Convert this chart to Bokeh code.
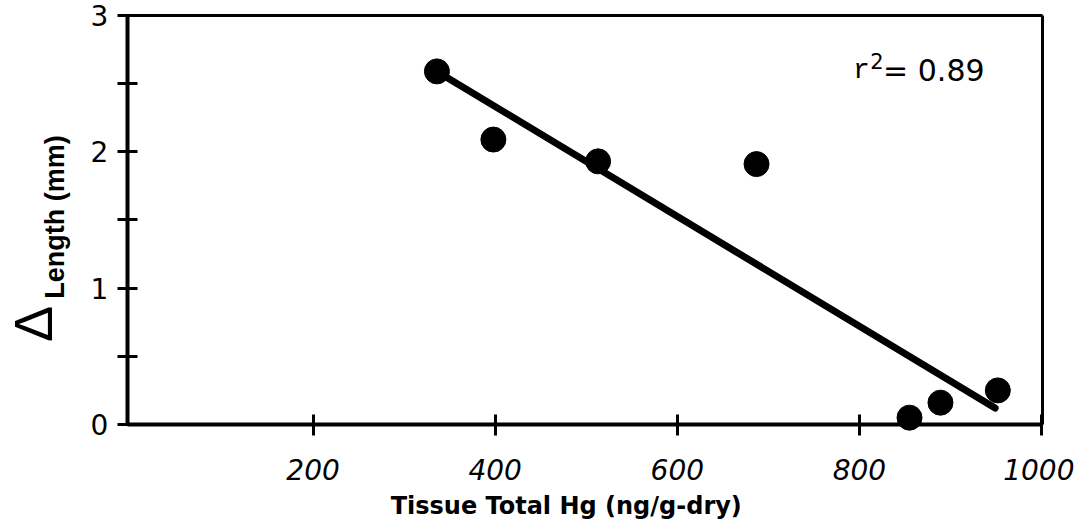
import math
from bokeh.plotting import figure
from bokeh.models import Range1d, FixedTicker, Label, ColumnDataSource, LinearAxis
from bokeh.embed import file_html
from bokeh.resources import INLINE

# ---- data ----
hg = [336, 398, 513, 687, 855, 889, 952]          # Tissue Total Hg (ng/g-dry)
dlen = [2.59, 2.09, 1.93, 1.91, 0.05, 0.16, 0.25]  # Delta length (mm)
fit_x = [336, 949]
fit_y = [2.59, 0.12]
x_ticks = [200, 400, 600, 800, 1000]
y_ticks = [0, 1, 2, 3]
y_minor = [0.5, 1.5, 2.5]
x_title = "Tissue Total Hg (ng/g-dry)"
y_title_sym = "\u0394"
y_title = "Length (mm)"
r2_label = "= 0.89"

X0, X1 = -4, 1001   # plot box extent in data units
Y0, Y1 = 0, 3

p = figure(width=1074, height=525, output_backend="svg", toolbar_location=None,
           x_range=Range1d(-143.3, 1036.2), y_range=Range1d(-0.741, 3.110),
           min_border=0, min_border_left=0, min_border_right=0,
           min_border_top=0, min_border_bottom=0)
p.background_fill_color = "white"
p.border_fill_color = "white"
p.outline_line_color = None
p.xgrid.visible = False
p.ygrid.visible = False

src = ColumnDataSource(dict(x=hg, y=dlen))
p.line(fit_x, fit_y, line_color="black", line_width=7, line_cap="round")
p.scatter("x", "y", source=src, size=25, color="black")

# axes (drawn at the box edges)
xa = p.xaxis[0]
xa.fixed_location = Y0
xa.bounds = (X0, X1)
xa.ticker = FixedTicker(ticks=x_ticks, minor_ticks=[])
xa.axis_line_width = 4
xa.major_tick_line_width = 3
xa.major_tick_in = 10
xa.major_tick_out = 11
xa.major_label_standoff = 24
xa.major_label_text_font = "DejaVu Sans"
xa.major_label_text_font_style = "italic"
xa.major_label_text_font_size = "28px"
xa.major_label_text_color = "black"

ya = p.yaxis[0]
ya.fixed_location = X0
ya.bounds = (Y0, Y1)
ya.ticker = FixedTicker(ticks=y_ticks, minor_ticks=y_minor)
ya.axis_line_width = 4
ya.major_tick_line_width = 3
ya.minor_tick_line_width = 3
ya.major_tick_in = 10
ya.major_tick_out = 10
ya.minor_tick_in = 10
ya.minor_tick_out = 10
ya.major_label_standoff = 9
ya.major_label_text_baseline = "top"
ya.major_label_text_font = "DejaVu Sans"
ya.major_label_text_font_size = "28px"
ya.major_label_text_color = "black"

top = LinearAxis(fixed_location=Y1, bounds=(X0, X1),
                 ticker=FixedTicker(ticks=[], minor_ticks=[]),
                 axis_line_width=3, major_tick_line_color=None,
                 minor_tick_line_color=None, major_label_text_font_size="0px")
right = LinearAxis(fixed_location=X1, bounds=(Y0, Y1),
                   ticker=FixedTicker(ticks=[], minor_ticks=[]),
                   axis_line_width=3, major_tick_line_color=None,
                   minor_tick_line_color=None, major_label_text_font_size="0px")
p.add_layout(top, "above")
p.add_layout(right, "right")

# titles
p.add_layout(Label(x=478, y=-0.601, text=x_title, text_align="center",
                   text_baseline="alphabetic", text_font="DejaVu Sans",
                   text_font_style="bold", text_font_size="24px",
                   text_color="black"))
p.add_layout(Label(x=-108, y=0.737, text=y_title_sym, angle=math.pi / 2,
                   text_align="center", text_baseline="alphabetic",
                   text_font="Liberation Sans", text_font_size="54px",
                   text_color="black"))
p.add_layout(Label(x=-83, y=1.522, text=y_title, angle=math.pi / 2,
                   text_align="center", text_baseline="alphabetic",
                   text_font="Liberation Sans", text_font_style="bold",
                   text_font_size="27px", text_color="black"))

# r^2 annotation
p.add_layout(Label(x=793, y=2.596, text="r", text_align="left",
                   text_baseline="alphabetic", text_font="Liberation Mono",
                   text_font_size="28px", text_color="black"))
p.add_layout(Label(x=812, y=2.663, text="2", text_align="left",
                   text_baseline="alphabetic", text_font="DejaVu Sans",
                   text_font_size="21px", text_color="black"))
p.add_layout(Label(x=826, y=2.596, text=r2_label, text_align="left",
                   text_baseline="alphabetic", text_font="DejaVu Sans",
                   text_font_size="30px", text_color="black"))

open("out.html", "w").write(file_html(p, INLINE))
